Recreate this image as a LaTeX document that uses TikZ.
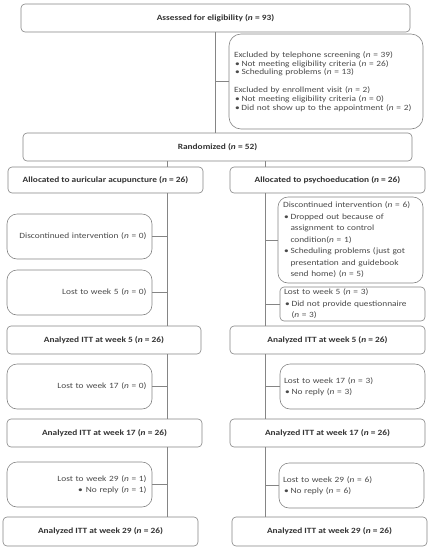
\documentclass[tikz,border=0pt]{standalone}
\usepackage{fontspec}
\setmainfont{Carlito}[FakeStretch=1.17]
\newcommand\nn{\textit{n}}
\newcommand\bul{\makebox[7.5pt][l]{\hspace{1.2pt}\textbullet}}
\newcommand\ind{\hspace*{7.5pt}}
\definecolor{txt}{HTML}{4A4A4A}
\definecolor{ttl}{HTML}{333333}
\definecolor{edge}{HTML}{858585}
\tikzset{
  box/.style={draw=edge, line width=0.6pt, rounded corners=4pt, fill=white, text=txt, inner xsep=0pt, inner ysep=0pt, font=\fontsize{8}{11.5}\selectfont},
  title/.style={box, text=ttl, font=\fontsize{8}{9}\selectfont\bfseries},
  roundbox/.style={box, rounded corners=10pt},
  conn/.style={draw=edge, line width=0.6pt}
}
\begin{document}
\begin{tikzpicture}[x=1pt,y=-1pt]
\useasboundingbox (0,0) rectangle (431,550);
% top
\node[title, minimum width=389pt, minimum height=28pt] (assess) at (215.5,18) {Assessed for eligibility (\nn{} = 93)};
\node[roundbox, rounded corners=12pt, minimum width=194pt, minimum height=95pt, text width=184pt, align=left, font=\fontsize{8}{8.7}\selectfont] (excl) at (326,81.5) {Excluded by telephone screening (\nn{} = 39)\\
\bul Not meeting eligibility criteria (\nn{} = 26)\\
\bul Scheduling problems (\nn{} = 13)\\[9pt]
Excluded by enrollment visit (\nn{} = 2)\\
\bul Not meeting eligibility criteria (\nn{} = 0)\\
\bul Did not show up to the appointment (\nn{} = 2)};
\node[title, minimum width=389pt, minimum height=28pt] (rand) at (217.5,147) {Randomized (\nn{} = 52)};
\node[title, minimum width=195pt, minimum height=26pt] (allocL) at (105.5,180) {Allocated to auricular acupuncture (\nn{} = 26)};
\node[title, minimum width=195pt, minimum height=26pt] (allocR) at (327.5,180) {Allocated to psychoeducation (\nn{} = 26)};
% left column
\node[roundbox, minimum width=145pt, minimum height=45pt, text width=134pt, align=right] (disL) at (79.5,236.5) {Discontinued intervention (\nn{} = 0)};
\node[roundbox, minimum width=145pt, minimum height=45pt, text width=134pt, align=right] (l5L) at (79.5,292.5) {Lost to week 5 (\nn{} = 0)};
\node[title, minimum width=194pt, minimum height=28pt] (aw5L) at (104,340) {Analyzed ITT at week 5 (\nn{} = 26)};
\node[roundbox, minimum width=145pt, minimum height=45pt, text width=134pt, align=right] (l17L) at (79.5,386.5) {Lost to week 17 (\nn{} = 0)};
\node[title, minimum width=195pt, minimum height=28pt] (aw17L) at (104.5,433) {Analyzed ITT at week 17 (\nn{} = 26)};
\node[roundbox, minimum width=145pt, minimum height=45pt, text width=134pt, align=right] (l29L) at (79.5,484.5) {Lost to week 29 (\nn{} = 1)\\ \textbullet\hspace{3pt}No reply (\nn{} = 1)};
\node[title, minimum width=195pt, minimum height=29pt] (aw29L) at (100.5,531.5) {Analyzed ITT at week 29 (\nn{} = 26)};
% right column
\node[roundbox, minimum width=145pt, minimum height=86pt, text width=135pt, align=left] (disR) at (350.5,240) {Discontinued intervention (\nn{} = 6)\\
\bul Dropped out because of\\
\ind assignment to control\\
\ind condition(\nn{} = 1)\\
\bul Scheduling problems (just got\\
\ind presentation and guidebook\\
\ind send home) (\nn{} = 5)};
\node[box, minimum width=145pt, minimum height=34pt, text width=137pt, align=left] (l5R) at (352.5,304) {Lost to week 5 (\nn{} = 3)\\
\bul Did not provide questionnaire\\
\ind (\nn{} = 3)};
\node[title, minimum width=195pt, minimum height=28pt] (aw5R) at (327.5,340) {Analyzed ITT at week 5 (\nn{} = 26)};
\node[roundbox, minimum width=145pt, minimum height=45pt, text width=137pt, align=left] (l17R) at (352.5,386.5) {Lost to week 17 (\nn{} = 3)\\
\bul No reply (\nn{} = 3)};
\node[title, minimum width=195pt, minimum height=28pt] (aw17R) at (327.5,433) {Analyzed ITT at week 17 (\nn{} = 26)};
\node[roundbox, minimum width=145pt, minimum height=45pt, text width=137pt, align=left] (l29R) at (351.5,485.5) {Lost to week 29 (\nn{} = 6)\\
\bul No reply (\nn{} = 6)};
\node[title, minimum width=195pt, minimum height=29pt] (aw29R) at (329.5,531.5) {Analyzed ITT at week 29 (\nn{} = 26)};
% connectors
\coordinate (cl) at (167,0);
\coordinate (cr) at (265,0);
\draw[conn] (assess.south) -- (assess.south |- rand.north);
\draw[conn] (excl.west) -- (excl.west -| assess.south);
\draw[conn] (rand.south -| cl) -- (allocL.north -| cl);
\draw[conn] (rand.south -| cr) -- (allocR.north -| cr);
\draw[conn] (allocL.south -| cl) -- (aw5L.north -| cl);
\draw[conn] (aw5L.south -| cl) -- (aw17L.north -| cl);
\draw[conn] (aw17L.south -| cl) -- (aw29L.north -| cl);
\draw[conn] (allocR.south -| cr) -- (aw5R.north -| cr);
\draw[conn] (aw5R.south -| cr) -- (aw17R.north -| cr);
\draw[conn] (aw17R.south -| cr) -- (aw29R.north -| cr);
\draw[conn] (disL.east) -- (disL.east -| cl);
\draw[conn] (l5L.east) -- (l5L.east -| cl);
\draw[conn] (l17L.east) -- (l17L.east -| cl);
\draw[conn] (l29L.east) -- (l29L.east -| cl);
\draw[conn] (disR.west) -- (disR.west -| cr);
\draw[conn] (l5R.west) -- (l5R.west -| cr);
\draw[conn] (l17R.west) -- (l17R.west -| cr);
\draw[conn] (l29R.west) -- (l29R.west -| cr);
\end{tikzpicture}
\end{document}
